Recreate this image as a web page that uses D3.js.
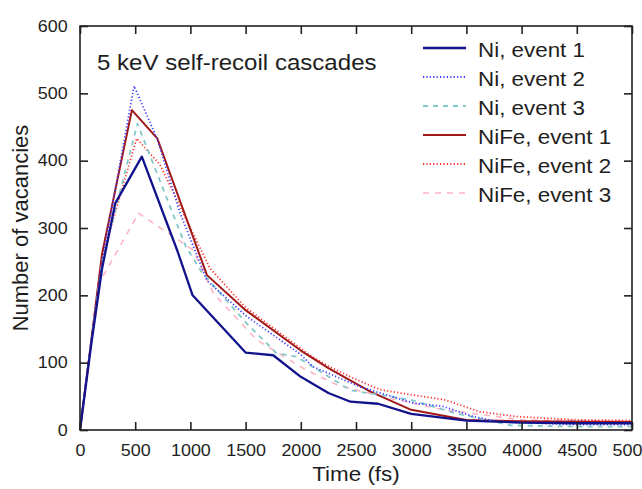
<!DOCTYPE html>
<html>
<head>
<meta charset="utf-8">
<script src="https://cdn.jsdelivr.net/npm/d3@7"></script>
<style>
  body { margin: 0; background: #fff; }
  svg text { font-family: 'Liberation Sans', Arial, sans-serif; fill: #1e1e1e; }
</style>
</head>
<body>
<script>
// series data (time in fs, number of vacancies)
var niEvent1Time = [0, 100, 200, 320, 560, 880, 1020, 1500, 1750, 2000, 2250, 2450, 2700, 3000, 3500, 4000, 4500, 5000];
var niEvent1 = [0, 125, 240, 337, 406, 267, 200, 115, 111, 79, 55, 42, 39, 24, 14, 11, 10, 10];

var niEvent2Time = [0, 100, 200, 490, 700, 900, 1150, 1500, 2000, 2110, 2540, 3020, 3290, 3560, 3800, 4500, 5000];
var niEvent2 = [0, 130, 250, 511, 432, 325, 222, 170, 112, 94, 64, 40, 35, 20, 12, 8, 8];

var niEvent3Time = [0, 100, 200, 520, 700, 960, 1100, 1500, 1780, 1960, 2450, 2990, 3400, 3900, 4500, 5000];
var niEvent3 = [0, 130, 250, 455, 380, 272, 235, 160, 114, 109, 59, 45, 25, 7, 5, 5];

var niFeEvent1Time = [0, 100, 200, 470, 700, 1150, 1500, 2000, 2250, 2630, 3000, 3500, 4000, 5000];
var niFeEvent1 = [0, 130, 262, 475, 433, 230, 178, 118, 92, 57, 30, 15, 13, 12];

var niFeEvent2Time = [0, 100, 200, 513, 725, 1000, 1178, 1500, 2083, 2250, 2500, 2717, 2900, 3140, 3300, 3623, 3955, 4500, 5000];
var niFeEvent2 = [0, 130, 255, 433, 394, 300, 240, 182, 111, 95, 75, 60, 55, 49, 45, 27, 20, 15, 14];

var niFeEvent3Time = [0, 100, 180, 530, 1026, 1208, 1600, 2050, 2330, 2750, 3300, 4000, 5000];
var niFeEvent3 = [0, 130, 220, 322, 267, 203, 134, 89, 67, 49, 30, 15, 13];

var seriesNames = ['Ni, event 1', 'Ni, event 2', 'Ni, event 3', 'NiFe, event 1', 'NiFe, event 2', 'NiFe, event 3'];
var xTicks = [0, 500, 1000, 1500, 2000, 2500, 3000, 3500, 4000, 4500, 5000];
var yTicks = [0, 100, 200, 300, 400, 500, 600];

var series = [
  { name: seriesNames[0], t: niEvent1Time, v: niEvent1, color: '#12128c', width: 2.3, dash: null },
  { name: seriesNames[1], t: niEvent2Time, v: niEvent2, color: '#3c3cff', width: 1.8, dash: '1.2,2.2' },
  { name: seriesNames[2], t: niEvent3Time, v: niEvent3, color: '#82c8c8', width: 1.8, dash: '5,5' },
  { name: seriesNames[3], t: niFeEvent1Time, v: niFeEvent1, color: '#a01818', width: 2, dash: null },
  { name: seriesNames[4], t: niFeEvent2Time, v: niFeEvent2, color: '#ff3030', width: 1.8, dash: '1.2,2.2' },
  { name: seriesNames[5], t: niFeEvent3Time, v: niFeEvent3, color: '#ffb4c4', width: 1.6, dash: '6,6' }
];

var W = 642, H = 489;
var margin = { top: 26, right: 10, bottom: 59, left: 80 },
    width = W - margin.left - margin.right,
    height = H - margin.top - margin.bottom;
var stretch = 'scale(1.12,1)';

var svg = d3.select('body').append('svg')
  .attr('width', W)
  .attr('height', H);

var g = svg.append('g')
  .attr('transform', 'translate(' + margin.left + ',' + margin.top + ')');

var x = d3.scaleLinear().domain([0, 5000]).range([0, width]);
var y = d3.scaleLinear().domain([0, 600]).range([height, 0]);

// curves
var line = d3.line()
  .x(function(d) { return x(d[0]); })
  .y(function(d) { return y(d[1]); });

g.selectAll('.curve')
  .data(series.slice().reverse())
  .enter().append('path')
  .attr('class', 'curve')
  .attr('fill', 'none')
  .attr('stroke', function(d) { return d.color; })
  .attr('stroke-width', function(d) { return d.width; })
  .attr('stroke-dasharray', function(d) { return d.dash; })
  .attr('stroke-linejoin', 'round')
  .attr('d', function(d) { return line(d3.zip(d.t, d.v)); });

// axes, ticks pointing inward on all four sides
var fmt = d3.format('d');
g.append('g')
  .attr('transform', 'translate(0,' + height + ')')
  .call(d3.axisBottom(x).tickValues(xTicks).tickFormat(fmt).tickSize(-8).tickSizeOuter(0).tickPadding(15));
g.append('g')
  .call(d3.axisLeft(y).tickValues(yTicks).tickFormat(fmt).tickSize(-8).tickSizeOuter(0).tickPadding(11));
g.append('g')
  .call(d3.axisTop(x).tickValues(xTicks).tickSize(-8).tickSizeOuter(0).tickFormat(''));
g.append('g')
  .attr('transform', 'translate(' + width + ',0)')
  .call(d3.axisRight(y).tickValues(yTicks).tickSize(-8).tickSizeOuter(0).tickFormat(''));

g.selectAll('.domain').remove();
g.selectAll('.tick line').attr('stroke', '#222').attr('stroke-width', 1.6);
g.selectAll('.tick text')
  .attr('font-size', 16)
  .attr('font-family', null)
  .attr('fill', '#1e1e1e')
  .attr('transform', stretch);

g.append('rect')
  .attr('width', width)
  .attr('height', height)
  .attr('fill', 'none')
  .attr('stroke', '#222')
  .attr('stroke-width', 1.6);

// titles
svg.append('text')
  .attr('transform', 'translate(' + (margin.left + width / 2) + ',481) ' + stretch)
  .attr('text-anchor', 'middle')
  .style('font-size', '20px')
  .text('Time (fs)');

svg.append('text')
  .attr('transform', 'translate(28,' + (margin.top + height / 2) + ') rotate(-90)')
  .attr('text-anchor', 'middle')
  .style('font-size', '22px')
  .text('Number of vacancies');

svg.append('text')
  .attr('transform', 'translate(97,70) ' + stretch)
  .style('font-size', '21.5px')
  .text('5 keV self-recoil cascades');

// legend
var legend = svg.selectAll('.legend')
  .data(series)
  .enter().append('g')
  .attr('class', 'legend')
  .attr('transform', function(d, i) { return 'translate(423,' + (48 + i * 29) + ')'; });

legend.append('line')
  .attr('x1', 0)
  .attr('x2', 43)
  .attr('stroke', function(d) { return d.color; })
  .attr('stroke-width', function(d) { return d.width; })
  .attr('stroke-dasharray', function(d) { return d.dash; });

legend.append('text')
  .attr('transform', 'translate(55,8.5) ' + stretch)
  .style('font-size', '20px')
  .text(function(d) { return d.name; });
</script>
</body>
</html>
